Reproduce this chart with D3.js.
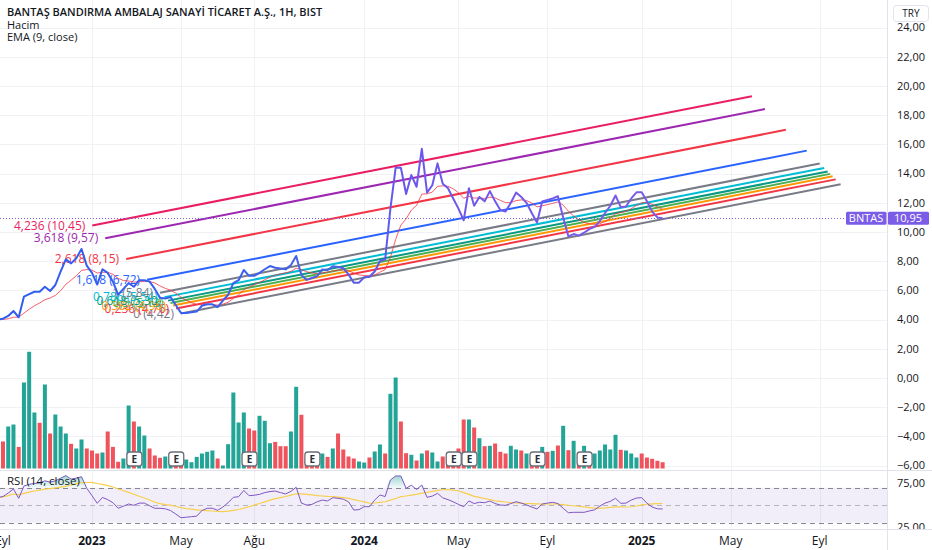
<!DOCTYPE html>
<html>
<head>
<meta charset="utf-8">
<script src="https://cdn.jsdelivr.net/npm/d3@7"></script>
<style>
  body { margin: 0; background: #fff; }
  svg { display: block; font-family: "Open Sans", "Noto Sans", sans-serif; }
</style>
</head>
<body>
<svg width="932" height="550"></svg>
<script>
// BNTAS weekly (1H = 1 hafta), first bar monday 2022-08-29
var firstWeek = "2022-08-29";

var closes = [
  4.0, 4.06, 4.25, 4.59, 4.16, 5.57, 5.75, 5.91, 5.91, 6.25,
  5.96, 6.37, 7.28, 8.13, 7.85, 8.2, 8.84, 7.7, 7.2, 6.4,
  7.45, 7.2, 6.6, 5.7, 6.1, 6.5, 6.25, 6.7, 6.7, 6.6,
  6.1, 5.5, 5.45, 5.55, 5.0, 4.45, 4.45, 4.5, 4.55, 4.95,
  5.05, 5.05, 4.85, 5.3, 5.7, 6.5, 6.7, 7.4, 7.0, 7.0,
  7.2, 7.45, 7.67, 7.55, 7.5, 7.44, 7.74, 8.36, 7.05, 6.72,
  6.85, 6.97, 7.44, 7.4, 7.65, 7.6, 7.52, 7.1, 6.53, 6.53,
  6.9, 6.94, 7.3, 8.0, 8.13, 11.6, 14.4, 14.4, 12.6, 13.9,
  13.1, 15.7, 12.7, 13.2, 14.7, 13.3, 13.0, 12.3, 11.6, 10.8,
  13.0, 11.8, 12.4, 12.1, 12.8, 12.1, 11.5, 11.4, 12.0, 12.7,
  12.4, 12.0, 11.3, 10.65, 12.1, 12.2, 12.3, 12.45, 11.0, 9.7,
  9.86, 9.75, 9.95, 10.2, 10.35, 10.75, 11.3, 11.8, 12.5, 11.7,
  11.75, 12.3, 12.72, 12.72, 12.1, 11.4, 11.0, 10.95
];

// hacim, milyon lot
var volumes = [
  3.5, 2.7, 4.2, 4.4, 2.16, 8.6, 11.67, 5.6, 4.57, 8.4,
  3.5, 5.4, 4.2, 3.5, 2.47, 2.0, 2.9, 2.0, 1.8, 1.5,
  1.6, 3.7, 2.16, 0.67, 1.0, 6.3, 4.7, 4.2, 3.3, 2.0,
  1.3, 1.07, 1.2, 1.0, 0.9, 0.8, 0.9, 0.63, 1.16, 1.5,
  1.67, 1.8, 1.0, 0.3, 2.43, 7.6, 4.6, 5.6, 4.0, 3.8,
  5.27, 4.77, 2.53, 2.66, 2.23, 2.23, 3.7, 8.17, 5.37, 1.0,
  0.8, 0.9, 1.5, 1.16, 2.0, 3.5, 1.9, 1.2, 1.0, 0.7,
  0.6, 1.1, 1.7, 2.4, 1.5, 7.47, 9.1, 4.7, 1.53, 1.37,
  0.8, 1.5, 1.8, 1.6, 0.7, 1.2, 0.8, 0.8, 2.0, 4.9,
  4.9, 4.1, 3.03, 2.23, 2.27, 2.5, 1.67, 1.5, 2.27, 1.9,
  1.8, 1.5, 0.9, 0.8, 2.16, 1.67, 1.77, 2.3, 4.27, 1.83,
  2.77, 1.6, 2.27, 1.2, 1.5, 1.8, 2.4, 1.9, 3.37, 1.87,
  1.8, 1.5, 1.1, 1.5, 1.1, 0.97, 0.77, 0.63
];

// 1 = yükselen hafta, 0 = düşen hafta
var volUp = [
  0, 0, 1, 1, 0, 1, 1, 1, 0, 1,
  0, 1, 1, 1, 0, 1, 1, 0, 0, 0,
  1, 0, 0, 0, 1, 1, 0, 1, 1, 0,
  0, 0, 1, 1, 0, 0, 1, 1, 1, 1,
  1, 1, 0, 1, 1, 1, 1, 1, 0, 0,
  1, 1, 1, 0, 0, 0, 1, 1, 0, 0,
  0, 0, 1, 0, 1, 0, 0, 0, 0, 1,
  1, 0, 1, 1, 0, 1, 1, 0, 0, 1,
  0, 1, 0, 1, 1, 0, 0, 0, 0, 0,
  1, 0, 1, 0, 1, 0, 0, 0, 1, 1,
  0, 1, 0, 0, 1, 0, 1, 0, 1, 0,
  1, 0, 1, 0, 1, 1, 1, 1, 1, 0,
  1, 1, 1, 0, 0, 0, 0, 0
];

var rsi = [
  59, 60, 64, 68.6, 58, 72, 74, 75, 75.5, 78,
  76.5, 78, 81, 84, 80, 81, 82.7, 69.4, 61, 52.3,
  59, 56.5, 53, 46.6, 49, 51.5, 50, 52.5, 52.5, 49.5,
  46.6, 46.6, 46, 44, 40, 35.8, 36.4, 37, 37.6, 44,
  46.6, 46.6, 44.3, 48, 53, 59.1, 59.8, 67, 61, 61.5,
  62.5, 64.5, 65.7, 66.3, 64.5, 63, 66, 70.6, 52.5, 50.3,
  51, 54, 56, 55, 58.7, 58, 57, 54, 44.6, 45,
  48.4, 48.4, 56, 61.8, 60, 78.9, 83.5, 83.5, 69.4, 73,
  68, 73.2, 59.1, 60.5, 63.7, 58.5, 56.5, 54, 51, 48.4,
  55, 52, 53.5, 53, 54.9, 52, 50.3, 50, 52, 54.1,
  52.5, 50.5, 48, 45.8, 51.5, 52.5, 53.4, 52, 46.6, 41.5,
  42, 42, 42, 43.5, 44.8, 49, 52.5, 54.5, 58, 52.3,
  52.5, 56, 58.3, 58.7, 52.5, 48, 46, 45.8
];

var earnings = ["2023-02-27", "2023-04-24", "2023-07-31", "2023-10-23",
                "2024-04-29", "2024-05-20", "2024-08-19", "2024-10-21"];

// fib kanalı: 0 çizgisi A->B, 1 seviyesi C noktasından geçiyor
var fibLevels = [0, 0.236, 0.382, 0.5, 0.618, 0.786, 1, 1.618, 2.618, 3.618, 4.236];
var fibA = ["2023-05-01", 4.42];
var fibB = ["2025-09-29", 13.27];
var fibC = ["2023-04-03", 5.8435];

var priceTicks = [-6, -4, -2, 0, 2, 4, 6, 8, 10, 12, 14, 16, 18, 20, 22, 24];
var rsiTicks = [75, 25];
var rsiBands = [70, 50, 30];
var timeTickDates = ["2022-09-05", "2023-01-02", "2023-05-01", "2023-08-07", "2024-01-01",
                     "2024-05-06", "2024-09-02", "2025-01-06", "2025-05-05", "2025-09-01"];
var timeTickLabels = ["Eyl", "2023", "May", "Ağu", "2024", "May", "Eyl", "2025", "May", "Eyl"];

var symbol = "BNTAS";
var lastPrice = 10.95;

var fibColors = ["#787b86", "#f23645", "#ff9800", "#4caf50", "#089981", "#00bcd4",
                 "#787b86", "#2962ff", "#f23645", "#9c27b0", "#e91e63"];

function draw() {
    var svg = d3.select("svg"),
        W = +svg.attr("width"),
        plotW = 887,
        mainTop = 0, mainBot = 470,
        rsiTop = 470, rsiBot = 529;

    var parse = d3.utcParse("%Y-%m-%d");
    var loc = d3.formatLocale({decimal: ",", thousands: ".", grouping: [3], currency: ["", ""], minus: "\u2212"});
    var f2 = loc.format(".2f");

    var dates = closes.map(function(c, i) { return d3.utcDay.offset(parse(firstWeek), 7 * i); });

    var x = d3.scaleUtc()
        .domain([parse("2022-09-01"), parse("2025-11-30")])
        .range([0, plotW]);
    var y = d3.scaleLinear().domain([-6.30, 25.89]).range([mainBot, mainTop]);
    var yVol = d3.scaleLinear().domain([0, 10]).range([468.5, 368.5]);
    var yRsi = d3.scaleLinear().domain([0, 100]).range([549.05, 461.55]);

    // ema 9
    var ema = [], a = 2 / 10;
    closes.forEach(function(c, i) { ema.push(i === 0 ? c : a * c + (1 - a) * ema[i - 1]); });
    // rsi ma 14
    var rsiMa = rsi.map(function(r, i) { return d3.mean(rsi.slice(Math.max(0, i - 13), i + 1)); });

    var defs = svg.append("defs");
    defs.append("clipPath").attr("id", "cMain").append("rect")
        .attr("x", 0).attr("y", mainTop).attr("width", plotW).attr("height", mainBot - mainTop);
    defs.append("clipPath").attr("id", "cRsi").append("rect")
        .attr("x", 0).attr("y", rsiTop).attr("width", plotW).attr("height", rsiBot - rsiTop);
    defs.append("clipPath").attr("id", "cAxMain").append("rect")
        .attr("x", plotW).attr("y", 23).attr("width", W - plotW).attr("height", mainBot - 23);
    defs.append("clipPath").attr("id", "cAxRsi").append("rect")
        .attr("x", plotW).attr("y", rsiTop).attr("width", W - plotW).attr("height", rsiBot - rsiTop);

    var lg = defs.append("linearGradient").attr("id", "gPrice")
        .attr("gradientUnits", "userSpaceOnUse").attr("x1", 0).attr("x2", plotW).attr("y1", 0).attr("y2", 0);
    [[0, "#2f5cf0"], [0.3, "#3d62ee"], [0.47, "#6a57ec"], [0.7, "#7a5be9"], [1, "#7b5ce8"]].forEach(function(s) {
        lg.append("stop").attr("offset", s[0]).attr("stop-color", s[1]);
    });
    var og = defs.append("linearGradient").attr("id", "gOb").attr("x1", 0).attr("x2", 0).attr("y1", 0).attr("y2", 1);
    og.append("stop").attr("offset", 0).attr("stop-color", "#26a69a").attr("stop-opacity", 0.45);
    og.append("stop").attr("offset", 1).attr("stop-color", "#26a69a").attr("stop-opacity", 0.05);

    // grid
    var grid = svg.append("g").attr("stroke", "#f0f2f6").attr("stroke-width", 1);
    grid.selectAll(".hg").data(priceTicks).enter().append("line")
        .attr("x1", 0).attr("x2", plotW)
        .attr("y1", function(d) { return Math.round(y(d)) + 0.5; })
        .attr("y2", function(d) { return Math.round(y(d)) + 0.5; });
    grid.selectAll(".vg").data(timeTickDates.slice(1)).enter().append("line")
        .attr("x1", function(d) { return Math.round(x(parse(d))) + 0.5; })
        .attr("x2", function(d) { return Math.round(x(parse(d))) + 0.5; })
        .attr("y1", 0).attr("y2", rsiBot);

    var main = svg.append("g").attr("clip-path", "url(#cMain)");

    // volume
    var bw = 4;
    main.append("g").selectAll("rect").data(volumes).enter().append("rect")
        .attr("x", function(d, i) { return x(dates[i]) - bw / 2; })
        .attr("y", function(d) { return yVol(d); })
        .attr("width", bw)
        .attr("height", function(d) { return yVol(0) - yVol(d); })
        .attr("fill", function(d, i) { return volUp[i] ? "#22a497" : "#f0535c"; });

    // earnings
    var eg = main.append("g").selectAll("g").data(earnings).enter().append("g")
        .attr("transform", function(d) { return "translate(" + (x(parse(d)) + 0.5) + ",459)"; });
    eg.append("rect").attr("x", -7.5).attr("y", -7).attr("width", 15).attr("height", 14).attr("rx", 3)
        .attr("fill", "#fff").attr("stroke", "#6a6d78").attr("stroke-width", 1.3);
    eg.append("text").attr("text-anchor", "middle").attr("dy", "0.36em")
        .attr("font-size", 10).attr("font-weight", 700).attr("fill", "#2a2e39").text("E");

    // fib channel
    var dAC = parse(fibC[0]) - parse(fibA[0]), vAC = fibC[1] - fibA[1];
    var fibs = fibLevels.map(function(l, k) {
        return {
            level: l, color: fibColors[k],
            t0: new Date(+parse(fibA[0]) + l * dAC), v0: fibA[1] + l * vAC,
            t1: new Date(+parse(fibB[0]) + l * dAC), v1: fibB[1] + l * vAC
        };
    });
    main.append("g").selectAll("line").data(fibs).enter().append("line")
        .attr("x1", function(d) { return x(d.t0); }).attr("y1", function(d) { return y(d.v0); })
        .attr("x2", function(d) { return x(d.t1); }).attr("y2", function(d) { return y(d.v1); })
        .attr("stroke", function(d) { return d.color; }).attr("stroke-width", 2);
    main.append("g").selectAll("text").data(fibs).enter().append("text")
        .attr("x", function(d) { return x(d.t0) - 7; })
        .attr("y", function(d) { return y(d.v0); })
        .attr("dy", "0.35em").attr("text-anchor", "end").attr("font-size", 12)
        .attr("fill", function(d) { return d.color; })
        .text(function(d) { return String(d.level).replace(".", ",") + " (" + f2(d.v0) + ")"; });

    // last price dotted line
    main.append("line").attr("x1", 0).attr("x2", 846)
        .attr("y1", Math.round(y(lastPrice)) + 0.5).attr("y2", Math.round(y(lastPrice)) + 0.5)
        .attr("stroke", "#7b5ce8").attr("stroke-dasharray", "1,2");

    // ema
    main.append("path").datum(ema)
        .attr("fill", "none").attr("stroke", "#f23645").attr("stroke-opacity", 0.8).attr("stroke-width", 1)
        .attr("d", d3.line().x(function(d, i) { return x(dates[i]); }).y(function(d) { return y(d); }));
    // price
    main.append("path").datum(closes)
        .attr("fill", "none").attr("stroke", "url(#gPrice)").attr("stroke-width", 2).attr("stroke-linejoin", "round")
        .attr("d", d3.line().x(function(d, i) { return x(dates[i]); }).y(function(d) { return y(d); }));

    // header
    var hd = svg.append("g").attr("fill", "#131722").attr("font-size", 11);
    hd.append("text").attr("x", 7).attr("y", 16).attr("font-weight", 600)
        .text("BANTAŞ BANDIRMA AMBALAJ SANAYİ TİCARET A.Ş., 1H, BIST");
    hd.append("text").attr("x", 7).attr("y", 28.5).text("Hacim");
    hd.append("text").attr("x", 7).attr("y", 40.5).text("EMA (9, close)");

    // RSI pane
    var rp = svg.append("g").attr("clip-path", "url(#cRsi)");
    rp.append("rect").attr("x", 0).attr("width", plotW)
        .attr("y", yRsi(70)).attr("height", yRsi(30) - yRsi(70)).attr("fill", "rgba(126,87,194,0.1)");
    rp.selectAll(".band").data(rsiBands).enter().append("line")
        .attr("x1", 0).attr("x2", plotW)
        .attr("y1", function(d) { return Math.round(yRsi(d)) + 0.5; })
        .attr("y2", function(d) { return Math.round(yRsi(d)) + 0.5; })
        .attr("stroke", "#787b86").attr("stroke-opacity", function(d) { return d === 50 ? 0.5 : 0.9; })
        .attr("stroke-dasharray", "5,4");
    rp.append("path").datum(rsi).attr("fill", "url(#gOb)")
        .attr("d", d3.area().x(function(d, i) { return x(dates[i]); })
            .y0(yRsi(70)).y1(function(d) { return yRsi(Math.max(d, 70)); }));
    rp.append("path").datum(rsiMa)
        .attr("fill", "none").attr("stroke", "#f7cf4d").attr("stroke-width", 1.2)
        .attr("d", d3.line().x(function(d, i) { return x(dates[i]); }).y(function(d) { return yRsi(d); }));
    rp.append("path").datum(rsi)
        .attr("fill", "none").attr("stroke", "#7e57c2").attr("stroke-width", 1)
        .attr("d", d3.line().x(function(d, i) { return x(dates[i]); }).y(function(d) { return yRsi(d); }));
    svg.append("text").attr("x", 7).attr("y", 481).attr("dy", "0.35em").attr("font-size", 11.5).attr("fill", "#131722")
        .text("RSI (14, close)");

    // separators
    var sep = svg.append("g").attr("stroke", "#e0e3eb");
    sep.append("line").attr("x1", 0).attr("x2", W).attr("y1", 470.5).attr("y2", 470.5);
    sep.append("line").attr("x1", 0).attr("x2", W).attr("y1", rsiBot + 0.5).attr("y2", rsiBot + 0.5);
    sep.append("line").attr("x1", plotW + 0.5).attr("x2", plotW + 0.5).attr("y1", 0).attr("y2", 550);

    // price axis
    svg.append("g").attr("clip-path", "url(#cAxMain)").selectAll("text").data(priceTicks).enter().append("text")
        .attr("x", 897).attr("y", function(d) { return y(d); }).attr("dy", "0.35em")
        .attr("font-size", 11).attr("fill", "#131722").text(function(d) { return f2(d); });
    svg.append("g").attr("clip-path", "url(#cAxRsi)").selectAll("text").data(rsiTicks).enter().append("text")
        .attr("x", 897).attr("y", function(d) { return yRsi(d); }).attr("dy", "0.35em")
        .attr("font-size", 11).attr("fill", "#131722").text(function(d) { return f2(d); });

    // currency box
    svg.append("rect").attr("x", 893.5).attr("y", 5.5).attr("width", 35).attr("height", 16).attr("rx", 3)
        .attr("fill", "#fff").attr("stroke", "#e0e3eb");
    svg.append("text").attr("x", 911).attr("y", 13.5).attr("dy", "0.35em").attr("text-anchor", "middle")
        .attr("font-size", 10).attr("fill", "#131722").text("TRY");

    // last price labels
    var ly = y(lastPrice);
    svg.append("rect").attr("x", 846).attr("y", ly - 6.5).attr("width", 40.5).attr("height", 13).attr("rx", 1.5)
        .attr("fill", "#7b5ce8");
    svg.append("text").attr("x", 866).attr("y", ly).attr("dy", "0.35em").attr("text-anchor", "middle")
        .attr("font-size", 11).attr("fill", "#fff").text(symbol);
    svg.append("rect").attr("x", 888).attr("y", ly - 6.5).attr("width", 41).attr("height", 13).attr("rx", 1.5)
        .attr("fill", "#7b5ce8");
    svg.append("text").attr("x", 908).attr("y", ly).attr("dy", "0.35em").attr("text-anchor", "middle")
        .attr("font-size", 11).attr("fill", "#fff").text(f2(lastPrice));

    // time axis
    svg.append("g").selectAll("text").data(timeTickDates).enter().append("text")
        .attr("x", function(d) { return x(parse(d)); }).attr("y", 541).attr("dy", "0.35em")
        .attr("text-anchor", "middle").attr("font-size", 12).attr("fill", "#131722")
        .attr("font-weight", function(d, i) { return /^\d+$/.test(timeTickLabels[i]) ? 700 : 400; })
        .text(function(d, i) { return timeTickLabels[i]; });
}

draw();
</script>
</body>
</html>
